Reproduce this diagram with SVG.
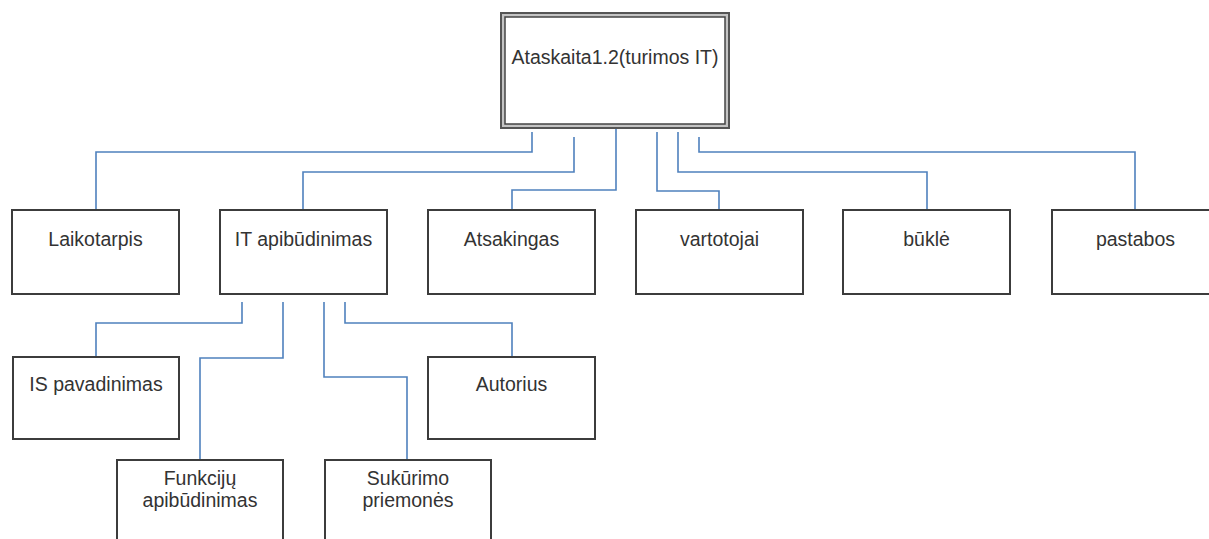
<svg xmlns="http://www.w3.org/2000/svg" width="1209" height="539" viewBox="0 0 1209 539">
<style>
.box{fill:#fff;stroke:#3c3c3c;stroke-width:2}
.t{font-family:"Liberation Sans",Arial,sans-serif;font-size:19.5px;fill:#333;text-anchor:middle}
.c{fill:none;stroke:#4f81bd;stroke-width:1.6}
</style>
<rect width="1209" height="539" fill="#fff"/>
<g id="connectors">
<polyline class="c" points="532,132 532,152 96,152 96,210"/>
<polyline class="c" points="574,137 574,172 303,172 303,210"/>
<polyline class="c" points="616,128 616,190 512,190 512,210"/>
<polyline class="c" points="657,132 657,191 719,191 719,210"/>
<polyline class="c" points="678,132 678,172 927,172 927,210"/>
<polyline class="c" points="699,137 699,152 1135,152 1135,210"/>
<polyline class="c" points="242,302 242,323 96,323 96,357"/>
<polyline class="c" points="283,302 283,358 200,358 200,460"/>
<polyline class="c" points="324,302 324,377 407,377 407,460"/>
<polyline class="c" points="345,302 345,323 512,323 512,357"/>
</g>
<g id="root">
<rect x="501" y="13" width="228" height="115" fill="#c4c4c4" stroke="#555" stroke-width="2"/>
<rect x="505" y="17" width="220" height="107" fill="#fff" stroke="#444" stroke-width="1.5"/>
<text class="t" x="615" y="64">Ataskaita1.2(turimos IT)</text>
</g>
<g id="laikotarpis">
<rect class="box" x="12" y="210" width="167" height="84"/>
<text class="t" x="95.5" y="246">Laikotarpis</text>
</g>
<g id="it-apibudinimas">
<rect class="box" x="220" y="210" width="167" height="84"/>
<text class="t" x="303.5" y="246">IT apibūdinimas</text>
</g>
<g id="atsakingas">
<rect class="box" x="428" y="210" width="167" height="84"/>
<text class="t" x="511.5" y="246">Atsakingas</text>
</g>
<g id="vartotojai">
<rect class="box" x="636" y="210" width="167" height="84"/>
<text class="t" x="719.5" y="246">vartotojai</text>
</g>
<g id="bukle">
<rect class="box" x="843" y="210" width="167" height="84"/>
<text class="t" x="926.5" y="246">būklė</text>
</g>
<g id="pastabos">
<rect class="box" x="1052" y="210" width="167" height="84"/>
<text class="t" x="1135.5" y="246">pastabos</text>
</g>
<g id="is-pavadinimas">
<rect class="box" x="13" y="357" width="166" height="82"/>
<text class="t" x="96" y="391">IS pavadinimas</text>
</g>
<g id="autorius">
<rect class="box" x="428" y="357" width="167" height="82"/>
<text class="t" x="511.5" y="391">Autorius</text>
</g>
<g id="funkciju-apibudinimas">
<rect class="box" x="117" y="460" width="166" height="90"/>
<text class="t" x="200" y="485">Funkcijų</text>
<text class="t" x="200" y="507">apibūdinimas</text>
</g>
<g id="sukurimo-priemones">
<rect class="box" x="325" y="460" width="166" height="90"/>
<text class="t" x="408" y="485">Sukūrimo</text>
<text class="t" x="408" y="507">priemonės</text>
</g>
</svg>
